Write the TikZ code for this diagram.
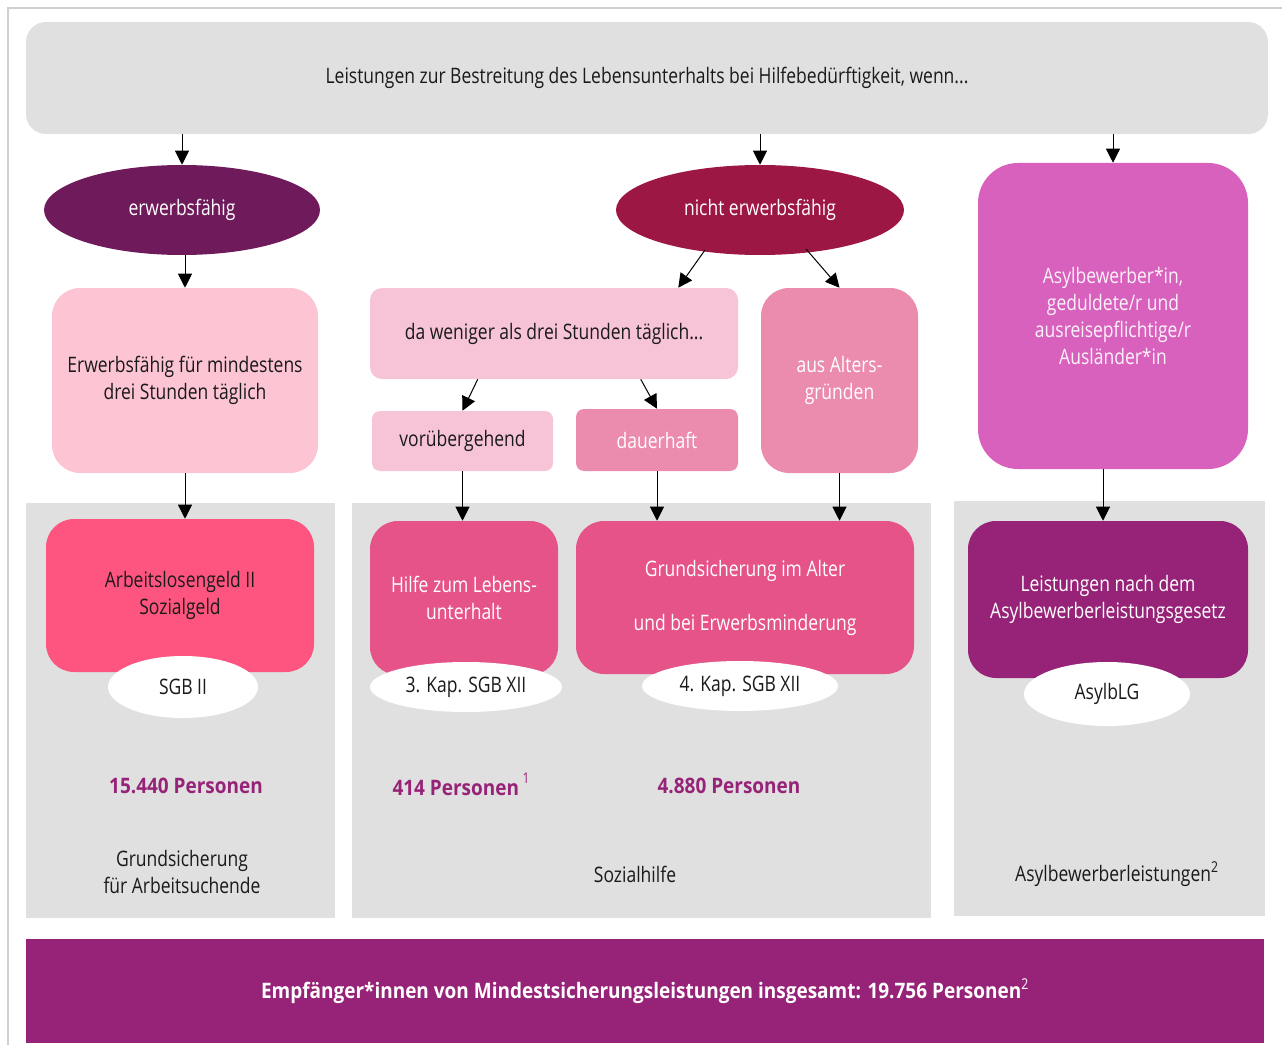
\documentclass[tikz,border=0pt]{standalone}
\usepackage{fontspec}
\setmainfont[FakeStretch=0.82]{Open Sans}
\newfontfamily\bnum[FakeStretch=0.89]{Open Sans}
\usetikzlibrary{shapes.geometric,arrows.meta,calc}
\definecolor{cgray}{HTML}{E0E0E0}
\definecolor{cframe}{HTML}{D0D0D0}
\definecolor{cerw}{HTML}{6F1A5B}
\definecolor{cnerw}{HTML}{9D1744}
\definecolor{casyl}{HTML}{D861BD}
\definecolor{cewb}{HTML}{FDC4D4}
\definecolor{clight}{HTML}{F7C4D7}
\definecolor{cmid}{HTML}{EB8BAD}
\definecolor{cab}{HTML}{FE5580}
\definecolor{chlu}{HTML}{E55388}
\definecolor{calb}{HTML}{962378}
\definecolor{ctext}{HTML}{1A1A1A}
\begin{document}
\begin{tikzpicture}[x=0.75pt,y=-0.75pt,
  font=\fontsize{16}{20.25}\selectfont, text=ctext,
  box/.style={rectangle, rounded corners=#1, inner sep=0pt, align=center},
  box/.default=21pt,
  ell/.style={ellipse, inner sep=0pt, align=center},
  arr/.style={-{Triangle[length=10.5pt,width=10.5pt]}, line width=0.75pt, draw=black},
  num/.style={text=calb, font=\fontsize{16}{20.25}\selectfont\bnum\bfseries},
  lbl/.style={align=center}]
\useasboundingbox (0,0) rectangle (1282,1045);
\draw[cframe, line width=0.9pt] (8,1045) -- (8,8) -- (1282,8);
% panels
\fill[cgray] (26,503) rectangle (335,918);
\fill[cgray] (352,503) rectangle (931,918);
\fill[cgray] (954,501) rectangle (1265,916);
% top
\node[box=15pt, fill=cgray, minimum width=931.5pt, minimum height=84pt] (top) at (647,78) {Leistungen zur Bestreitung des Lebensunterhalts bei Hilfebedürftigkeit, wenn...};
\node[ell, fill=cerw, text=white, minimum width=207pt, minimum height=67.5pt] (erw) at (182,210) {erwerbsfähig};
\node[ell, fill=cnerw, text=white, minimum width=216pt, minimum height=67.5pt] (nerw) at (760,210) {nicht erwerbsfähig};
\node[box=30pt, fill=casyl, text=white!92!casyl, minimum width=202.5pt, minimum height=229.5pt] (asyl) at (1113,316) {Asylbewerber*in,\\geduldete/r und\\ausreisepflichtige/r\\Ausländer*in};
\node[box=21pt, fill=cewb, minimum width=199.5pt, minimum height=138.75pt] (ewb) at (185,380.5) {Erwerbsfähig für mindestens\\drei Stunden täglich};
\node[box=9pt, fill=clight, minimum width=276pt, minimum height=68.25pt] (dw) at (554,333.5) {da weniger als drei Stunden täglich...};
\node[box=21pt, fill=cmid, text=white, minimum width=117.75pt, minimum height=138.75pt] (alt) at (839.5,380.5) {aus Alters-\\gründen};
\node[box=6pt, fill=clight, minimum width=135.75pt, minimum height=45pt] (vb) at (462.5,441) {vorübergehend};
\node[box=6pt, fill=cmid, text=white, minimum width=121.5pt, minimum height=46.5pt] (dh) at (657,440) {dauerhaft};
% benefit boxes
\node[box=21pt, fill=cab, minimum width=201pt, minimum height=114.75pt] (ab) at (180,595.5) {Arbeitslosengeld II\\Sozialgeld};
\node[ell, fill=white, minimum width=112.5pt, minimum height=46.5pt] (sgb2) at (183,687) {SGB II};
\node[box=21pt, fill=chlu, text=white, minimum width=141pt, minimum height=115.5pt] (hlu) at (464,598) {Hilfe zum Lebens-\\unterhalt};
\node[ell, fill=white, minimum width=144pt, minimum height=37.5pt] (k3) at (466,687) {3. Kap. SGB XII};
\node[box=21pt, fill=chlu, text=white, minimum width=253.5pt, minimum height=114.75pt] (gs) at (745,597.5) {Grundsicherung im Alter\\\mbox{}\\und bei Erwerbsminderung};
\node[ell, fill=white, minimum width=147pt, minimum height=37.5pt] (k4) at (740,686) {4. Kap. SGB XII};
\node[box=21pt, fill=calb, text=white, minimum width=210pt, minimum height=117.75pt] (alb) at (1108,599.5) {Leistungen nach dem\\Asylbewerberleistungsgesetz};
\node[ell, fill=white, minimum width=124.5pt, minimum height=48pt] (alg) at (1107,694) {AsylbLG};
% numbers
\node[num] (n1) at (186,786) {15.440 Personen};
\node[num] (n2) at (461,784) {414 Personen\,\raisebox{0.55em}{\normalfont\fontsize{11}{12}\selectfont 1}};
\node[num] (n3) at (729,786) {4.880 Personen};
% panel labels
\node[lbl] (p1) at (182,872) {Grundsicherung\\für Arbeitsuchende};
\node[lbl] (p2) at (635,874) {Sozialhilfe};
\node[lbl] (p3) at (1117,874) {Asylbewerberleistungen\textsuperscript{2}};
% bottom bar
\node[rectangle, fill=calb, inner sep=0pt, minimum width=928.5pt, minimum height=78pt, text=white, font=\fontsize{16}{20.25}\selectfont\bnum\bfseries] (bar) at (645,991) {Empfänger*innen von Mindestsicherungsleistungen insgesamt: 19.756 Personen\textsuperscript{\normalfont 2}};
% arrows
\draw[arr] (top.south -| erw.north) -- (erw.north);
\draw[arr] (top.south -| nerw.north) -- (nerw.north);
\draw[arr] (top.south -| asyl.north) -- (asyl.north);
\draw[arr] (erw.south -| ewb.north) -- (ewb.north);
\draw[arr] ($(nerw.center)+(-55,40)$) -- ($(dw.north east)+(-60,0)$);
\draw[arr] ($(nerw.center)+(46,39)$) -- (alt.north);
\draw[arr] ($(dw.south west)+(108,0)$) -- (vb.north);
\draw[arr] ($(dw.south west)+(271,0)$) -- (dh.north);
\draw[arr] (ewb.south) -- (ewb.south |- ab.north);
\draw[arr] (vb.south) -- (vb.south |- hlu.north);
\draw[arr] (dh.south) -- (dh.south |- gs.north);
\draw[arr] (alt.south) -- (alt.south |- gs.north);
\draw[arr] ($(asyl.south)+(-10,0)$) -- ($(alb.north)+(-5,0)$);
\end{tikzpicture}
\end{document}
